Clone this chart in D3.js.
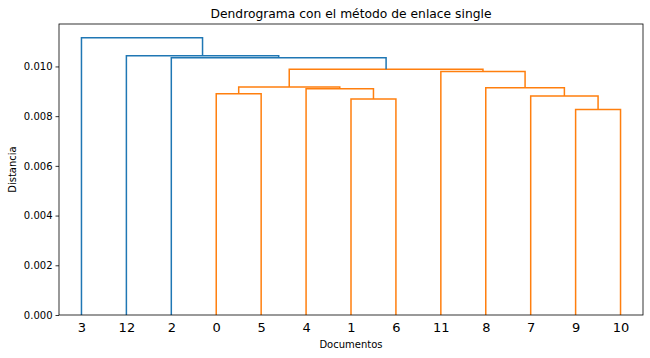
<!DOCTYPE html>
<html><head><meta charset="utf-8">
<script src="https://cdn.jsdelivr.net/npm/d3@7"></script>
<style>body{margin:0;background:#fff}svg{display:block;font-family:"DejaVu Sans",sans-serif}</style>
</head><body><svg id="c" width="650" height="358"></svg>
<script>
// Leaf labels in display order
const leafLabels = ["3","12","2","0","5","4","1","6","11","8","7","9","10"];
// Merges: node ids 0..12 are leaves (by position), 13+ are merges in order
const mergeLeft   = [11, 6, 10, 3, 5, 9, 16, 8, 19, 2, 1, 0];
const mergeRight  = [12, 7, 13, 4, 14, 15, 17, 18, 20, 21, 22, 23];
const mergeHeight = [0.00827, 0.00869, 0.00881, 0.00890, 0.00910, 0.00914, 0.00917, 0.00980, 0.00989, 0.01035, 0.01043, 0.01115];
const mergeColor  = ["o","o","o","o","o","o","o","o","o","b","b","b"];
const yTicks = [0, 0.002, 0.004, 0.006, 0.008, 0.010];
const colors = {b: "#1f77b4", o: "#ff7f0e"};

const L = 59, R = 643, T = 24, B = 315;
const svg = d3.select("#c");
const n = leafLabels.length;
const x = d3.scaleLinear().domain([0, n * 10]).range([L, R]);
const yMax = d3.max(mergeHeight) * 1.05;
const y = d3.scaleLinear().domain([0, yMax]).range([B, T]);

// node positions
const nodeX = leafLabels.map((_, i) => i * 10 + 5);
const nodeY = leafLabels.map(() => 0);
mergeLeft.forEach((l, k) => {
  nodeX.push((nodeX[l] + nodeX[mergeRight[k]]) / 2);
  nodeY.push(mergeHeight[k]);
});

const g = svg.append("g");
mergeLeft.forEach((l, k) => {
  const r = mergeRight[k], h = mergeHeight[k];
  const pts = [[nodeX[l], nodeY[l]], [nodeX[l], h], [nodeX[r], h], [nodeX[r], nodeY[r]]];
  g.append("path")
    .attr("d", d3.line().x(d => x(d[0])).y(d => y(d[1]))(pts))
    .attr("fill", "none")
    .attr("stroke", colors[mergeColor[k]])
    .attr("stroke-width", 1.5);
});

// axes
const yAxis = d3.axisLeft(y).tickValues(yTicks).tickFormat(d3.format(".3f")).tickSize(3.5).tickPadding(3);
const ya = svg.append("g").attr("transform", `translate(${L},0)`).call(yAxis);
ya.select(".domain").remove();
ya.selectAll("text").attr("font-size", 10).attr("font-family", "DejaVu Sans").attr("fill", "#000");
ya.selectAll("line").attr("stroke", "#000").attr("stroke-width", 0.8);

const xAxis = d3.axisBottom(x).tickValues(leafLabels.map((_, i) => i * 10 + 5))
  .tickFormat((d, i) => leafLabels[i]).tickSize(0).tickPadding(8);
const xa = svg.append("g").attr("transform", `translate(0,${B})`).call(xAxis);
xa.select(".domain").remove();
xa.selectAll("text").attr("font-size", 13).attr("font-family", "DejaVu Sans").attr("fill", "#000");

// frame
svg.append("rect").attr("x", L).attr("y", T).attr("width", R - L).attr("height", B - T)
  .attr("fill", "none").attr("stroke", "#000").attr("stroke-width", 0.8);

// labels
svg.append("text").attr("x", (L + R) / 2).attr("y", 18).attr("text-anchor", "middle")
  .attr("font-size", 12.3).text("Dendrograma con el método de enlace single");
svg.append("text").attr("x", (L + R) / 2).attr("y", 348).attr("text-anchor", "middle")
  .attr("font-size", 10).text("Documentos");
svg.append("text").attr("transform", `translate(16,${(T + B) / 2}) rotate(-90)`).attr("text-anchor", "middle")
  .attr("font-size", 10).text("Distancia");
</script></body></html>
